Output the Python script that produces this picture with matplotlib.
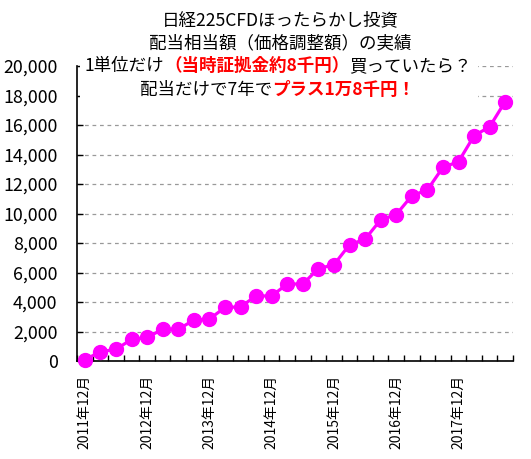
import matplotlib
matplotlib.use('Agg')
import matplotlib.pyplot as plt
from matplotlib.patches import Rectangle
from matplotlib.transforms import IdentityTransform

plt.rcParams['font.family'] = ['Noto Sans CJK JP', 'DejaVu Sans']

# 四半期ごとの累計配当相当額（円）
values = [80, 630, 790, 1465, 1600, 2150, 2150, 2770, 2840, 3630, 3670, 4410,
          4410, 5220, 5220, 6260, 6530, 7880, 8260, 9570, 9930, 11200, 11600,
          13130, 13510, 15270, 15880, 17590]
year_labels = ['2011年12月', '2012年12月', '2013年12月', '2014年12月',
               '2015年12月', '2016年12月', '2017年12月']
yticks = list(range(0, 20001, 2000))

W, H = 531, 459
fig = plt.figure(figsize=(W / 100, H / 100), dpi=100)
ax = fig.add_axes([77 / W, 1 - 361 / H, (513 - 77) / W, (361 - 66) / H])

x = list(range(len(values)))
ax.plot(x, values, color='#ff00ff', lw=2.3, marker='o', ms=10, clip_on=False, zorder=3)

ax.set_xlim(-0.5, len(values) - 0.5)
ax.set_ylim(0, 20000)
ax.set_yticks(yticks)
ax.set_yticklabels([f'{v:,}' for v in yticks], fontsize=12.8)
ax.tick_params(axis='y', direction='in', length=4, width=1, pad=14)
ax.set_xticks([i * 4 for i in range(len(year_labels))])
ax.set_xticklabels(year_labels, rotation=90, fontsize=10, va='top')
ax.set_xticks([i - 0.5 for i in range(len(values) + 1)], minor=True)
ax.tick_params(axis='x', which='major', length=0, pad=10)
ax.tick_params(axis='x', which='minor', direction='in', length=4, width=1)
for s in ['top', 'right']:
    ax.spines[s].set_visible(False)
for s in ['left', 'bottom']:
    ax.spines[s].set_linewidth(1.2)
ax.grid(axis='y', color='#999999', ls=(0, (3, 3)), lw=0.9)
ax.set_axisbelow(True)

# タイトルの白い背景
fig.patches.append(Rectangle((80, H - 100), 398, 100, transform=IdentityTransform(),
                             facecolor='white', edgecolor='none', zorder=5))

fig.canvas.draw()
renderer = fig.canvas.get_renderer()


def centered_line(pieces, cx, cy):
    texts = []
    for s, color, weight in pieces:
        t = fig.text(0, 0, s, color=color, fontweight=weight, fontsize=12.6,
                     transform=IdentityTransform(), va='center', ha='left', zorder=6)
        texts.append(t)
    widths = [t.get_window_extent(renderer).width for t in texts]
    xpos = cx - sum(widths) / 2
    for t, w in zip(texts, widths):
        t.set_position((xpos, H - cy))
        xpos += w


centered_line([('日経225CFDほったらかし投資', 'black', 'normal')], 280, 20)
centered_line([('配当相当額（価格調整額）の実績', 'black', 'normal')], 280, 43)
centered_line([('1単位だけ', 'black', 'normal'),
               ('（当時証拠金約8千円）', 'red', 'bold'),
               ('買っていたら？', 'black', 'normal')], 278, 66)
centered_line([('配当だけで7年で', 'black', 'normal'),
               ('プラス1万8千円！', 'red', 'bold')], 278, 90)

fig.savefig('out.png', dpi=100)
